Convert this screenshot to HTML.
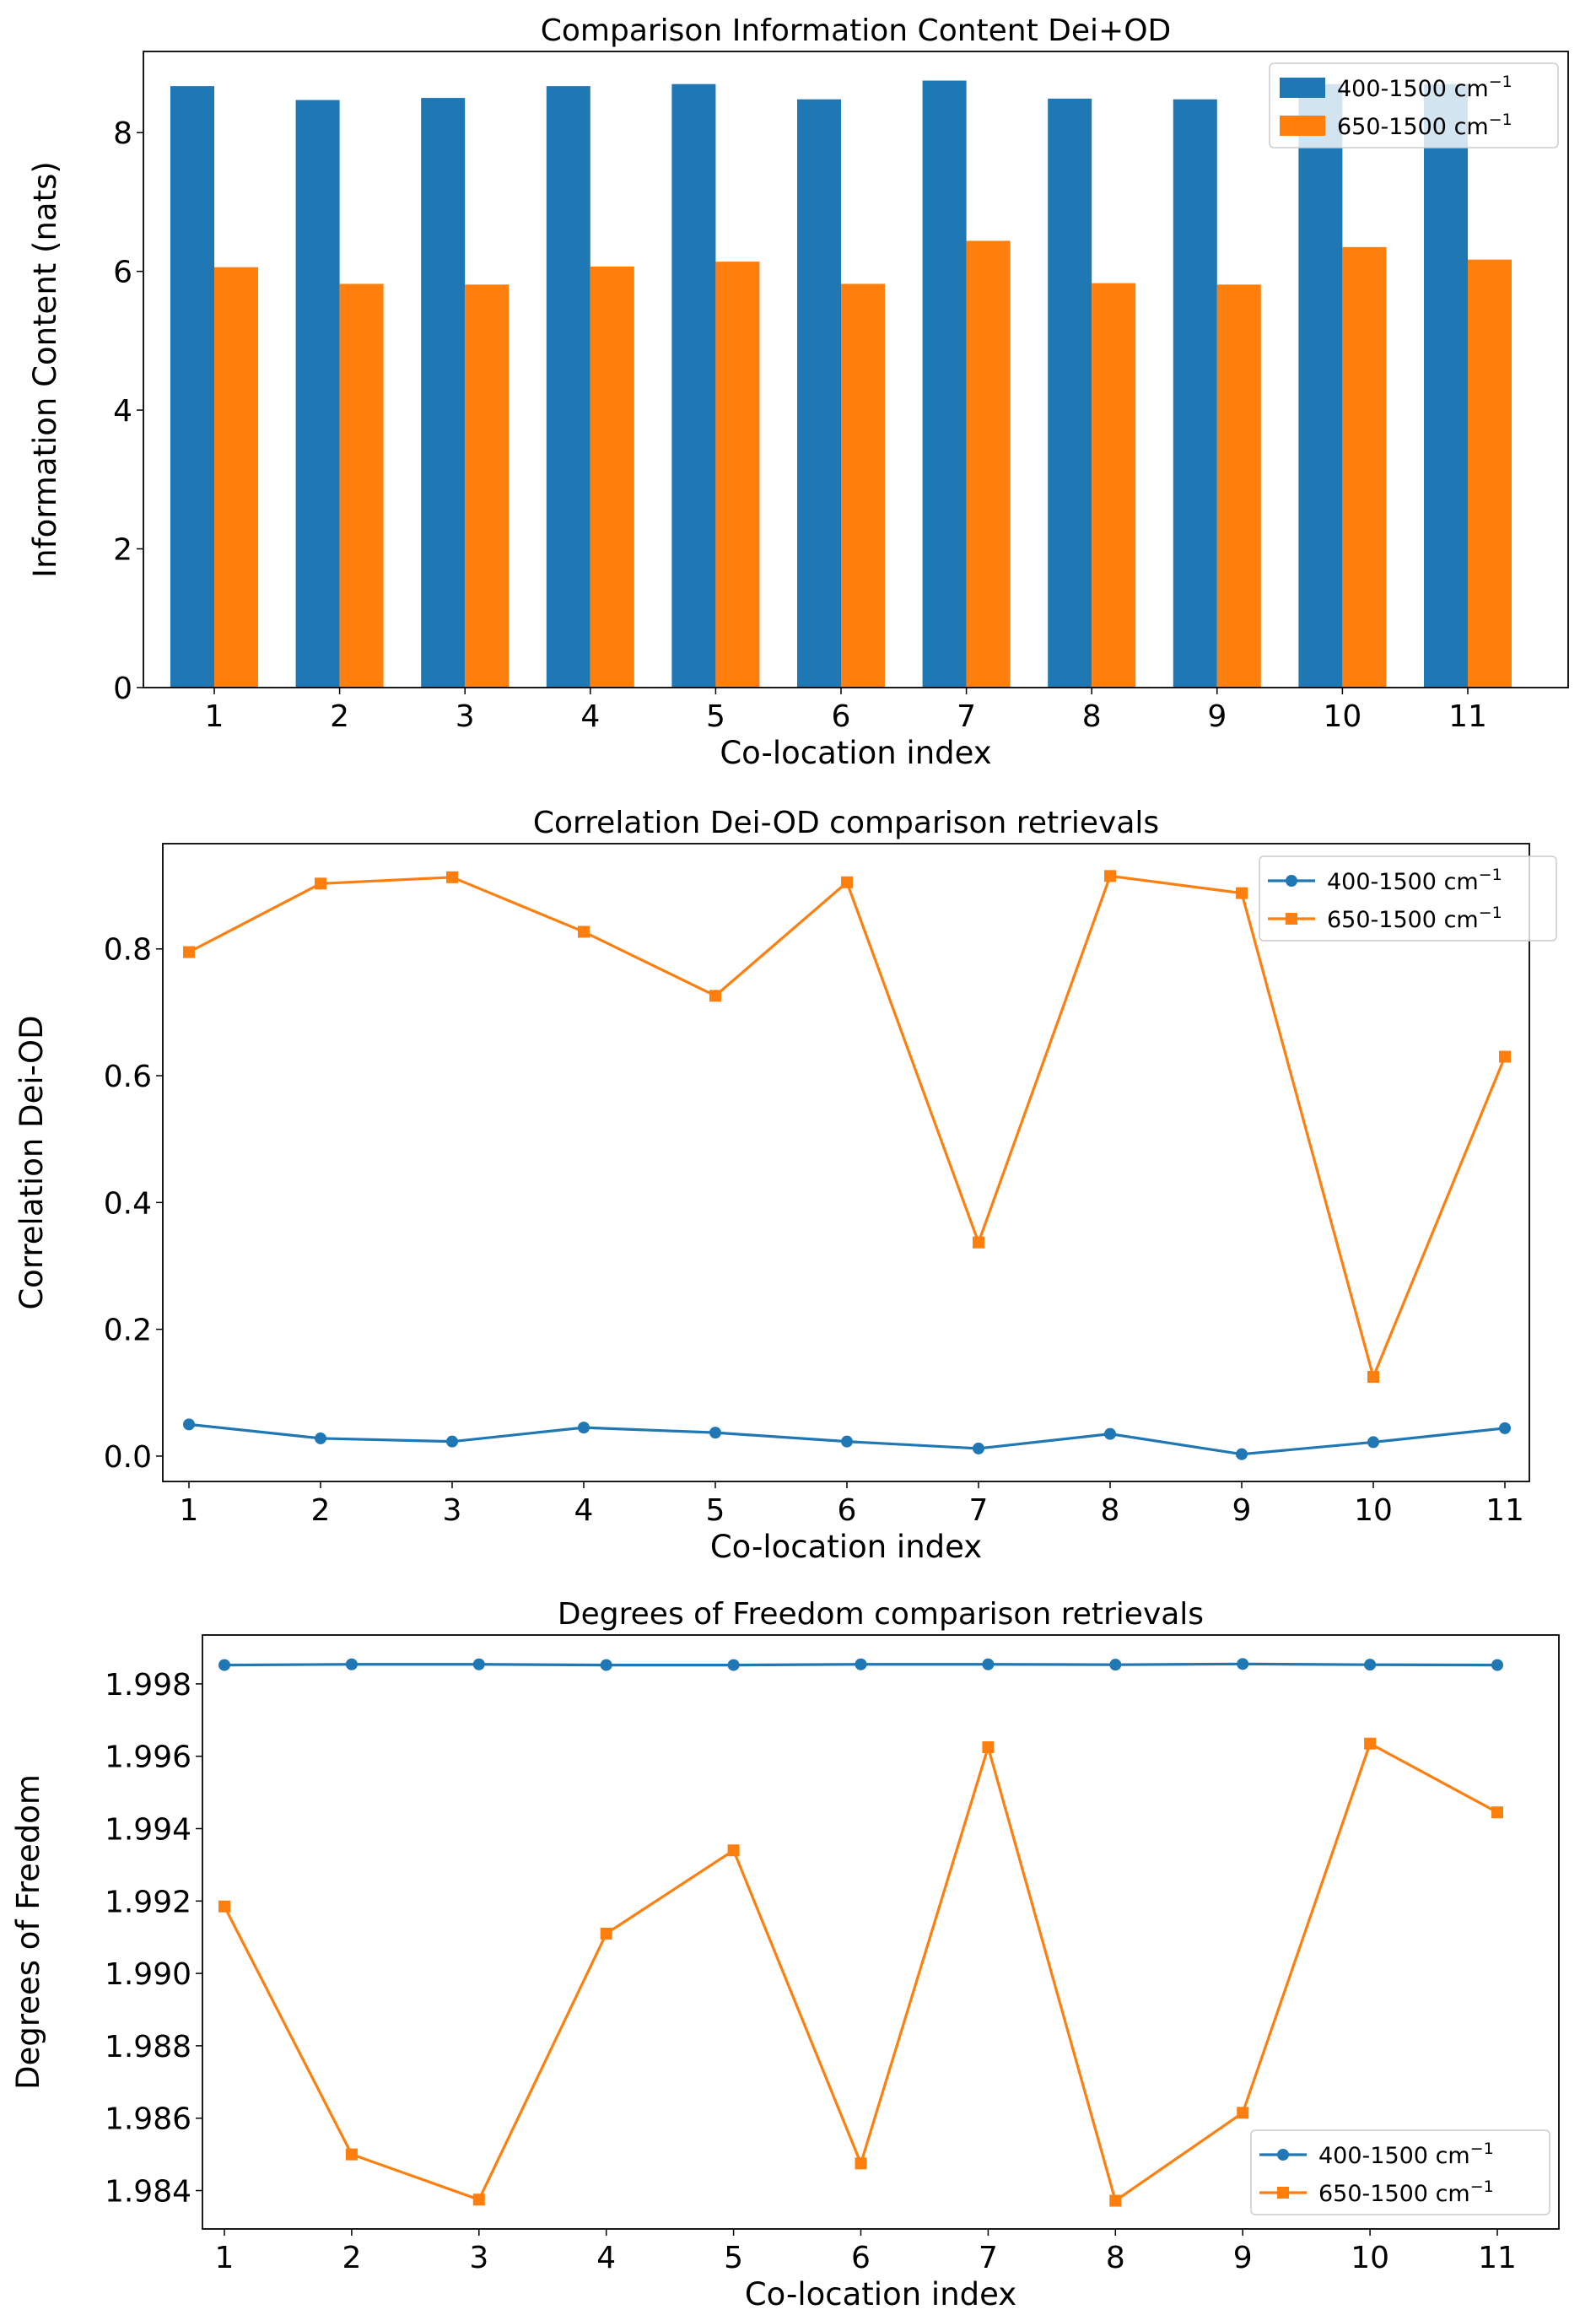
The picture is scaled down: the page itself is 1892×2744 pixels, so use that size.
<!DOCTYPE html>
<html><head><meta charset="utf-8"><style>
html,body{margin:0;padding:0;background:#fff}
svg{display:block;font-family:"DejaVu Sans","Liberation Sans",sans-serif}
</style></head><body>
<svg id="s" width="1892" height="2744" viewBox="0 0 1892 2744"></svg>
<script>
const categories=[1,2,3,4,5,6,7,8,9,10,11];
const icBlue=[8.67,8.47,8.50,8.67,8.70,8.48,8.75,8.49,8.48,8.70,8.70];
const icOrange=[6.06,5.82,5.81,6.07,6.14,5.82,6.44,5.83,5.81,6.35,6.17];
const icTicks=[0,2,4,6,8];
const corrBlue=[0.050,0.028,0.023,0.045,0.037,0.023,0.012,0.035,0.003,0.022,0.044];
const corrOrange=[0.795,0.903,0.913,0.827,0.726,0.905,0.337,0.915,0.888,0.125,0.630];
const corrTicks=[0.0,0.2,0.4,0.6,0.8];
const dofBlue=[1.99852,1.99854,1.99854,1.99852,1.99852,1.99854,1.99854,1.99853,1.99855,1.99853,1.99852];
const dofOrange=[1.99185,1.98500,1.98375,1.99110,1.99340,1.98475,1.99625,1.98372,1.98615,1.99635,1.99445];
const dofTicks=[1.984,1.986,1.988,1.990,1.992,1.994,1.996,1.998];

const S=document.getElementById('s');const NS='http://www.w3.org/2000/svg';
const BLUE='#1f77b4',ORANGE='#ff7f0e';
function el(t,a,p){const e=document.createElementNS(NS,t);for(const k in a)e.setAttribute(k,a[k]);(p||S).appendChild(e);return e;}
function txt(x,y,s,a,p){const e=el('text',Object.assign({x:x,y:y},a),p);e.textContent=s;return e;}

function axes(cfg){
  const g=el('g',{});
  
  
  const {L,R,T,B,ymin,ymax,x1,x11}=cfg;
  const X=i=>x1+(i-1)*(x11-x1)/10;
  const Y=v=>B-(v-ymin)/(ymax-ymin)*(B-T);
  return {g,X,Y,L,R,T,B};
}
function frame(a,cfg){
  const {g,X,Y,L,R,T,B}=a;
  const f=el('rect',{x:L,y:T,width:R-L,height:B-T,fill:'none',stroke:'#000','stroke-width':1.8},g);
  
  categories.forEach(c=>{
    el('line',{x1:X(c),x2:X(c),y1:B,y2:B+8,stroke:'#000','stroke-width':1.5},g);
    const t=txt(X(c),B+46,String(c),{'font-size':36,'text-anchor':'middle'},g);
    
  });
  cfg.ticks.forEach(v=>{
    el('line',{x1:L-8,x2:L,y1:Y(v),y2:Y(v),stroke:'#000','stroke-width':1.5},g);
    const t=txt(L-13,Y(v)+13,v.toFixed(cfg.dec),{'font-size':36,'text-anchor':'end'},g);
    
  });
  const tt=txt((L+R)/2,T-13,cfg.title,{'font-size':36,'text-anchor':'middle'},g);
  
  const xt=txt((L+R)/2,B+90,'Co-location index',{'font-size':37,'text-anchor':'middle'},g);
  
  const yt=txt(0,0,cfg.ylabel,{'font-size':37,'text-anchor':'middle',transform:`translate(${cfg.ylx},${(T+B)/2}) rotate(-90)`},g);
  
}
function legend(a,x,y,w,kind){
  const lg=el('g',{},a.g);
  
  el('rect',{x:x,y:y,width:w,height:100,rx:5,fill:'#fff','fill-opacity':0.8,stroke:'#ccc','stroke-width':1.5},lg);
  [[BLUE,'400-1500 cm'],[ORANGE,'650-1500 cm']].forEach((d,i)=>{
    const cy=y+29+i*45;
    if(kind==='bar'){el('rect',{x:x+12,y:cy-12,width:54,height:24,fill:d[0]},lg);}
    else{el('line',{x1:x+10,x2:x+66,y1:cy,y2:cy,stroke:d[0],'stroke-width':3.2},lg);
      if(i===0)el('circle',{cx:x+38,cy:cy,r:7,fill:d[0]},lg);else el('rect',{x:x+31,y:cy-7,width:14,height:14,fill:d[0]},lg);}
    const t=txt(x+80,cy+10,d[1],{'font-size':27},lg);
    const sp=el('tspan',{dy:-11,'font-size':19},t);sp.textContent='−1';
    
  });
}
function lineSeries(a,vals,color,marker,name){
  const g=el('g',{},a.g);
  
  el('polyline',{points:vals.map((v,i)=>a.X(categories[i])+','+a.Y(v)).join(' '),fill:'none',stroke:color,'stroke-width':3.2},g);
  vals.forEach((v,i)=>{
    const x=a.X(categories[i]),y=a.Y(v);let m;
    if(marker==='o')m=el('circle',{cx:x,cy:y,r:7,fill:color},g);
    else m=el('rect',{x:x-7,y:y-7,width:14,height:14,fill:color},g);
    
  });
}

// Chart 1
const c1={name:'information-content-chart',L:170,R:1859,T:61,B:815,ymin:0,ymax:9.17,x1:254,x11:1740,ticks:icTicks,dec:0,title:'Comparison Information Content Dei+OD',ylabel:'Information Content (nats)',ylx:66};
const a1=axes(c1);
const bw=(c1.x11-c1.x1)/10*0.35;
categories.forEach((c,i)=>{
  const b=el('rect',{x:a1.X(c)-bw,y:a1.Y(icBlue[i]),width:bw,height:a1.Y(0)-a1.Y(icBlue[i]),fill:BLUE},a1.g);
  
  const o=el('rect',{x:a1.X(c),y:a1.Y(icOrange[i]),width:bw,height:a1.Y(0)-a1.Y(icOrange[i]),fill:ORANGE},a1.g);
  
});
frame(a1,c1);legend(a1,1505,75,342,'bar');

// Chart 2
const c2={name:'correlation-chart',L:193,R:1813,T:1000,B:1756,ymin:-0.04,ymax:0.966,x1:224,x11:1784,ticks:corrTicks,dec:1,title:'Correlation Dei-OD comparison retrievals',ylabel:'Correlation Dei-OD',ylx:50};
const a2=axes(c2);
lineSeries(a2,corrBlue,BLUE,'o','series-400-1500');
lineSeries(a2,corrOrange,ORANGE,'s','series-650-1500');
frame(a2,c2);legend(a2,1493,1015,352,'line');

// Chart 3
const c3={name:'degrees-of-freedom-chart',L:240,R:1848,T:1938,B:2642,ymin:1.98294,ymax:1.99935,x1:266,x11:1775,ticks:dofTicks,dec:3,title:'Degrees of Freedom comparison retrievals',ylabel:'Degrees of Freedom',ylx:46};
const a3=axes(c3);
lineSeries(a3,dofBlue,BLUE,'o','series-400-1500');
lineSeries(a3,dofOrange,ORANGE,'s','series-650-1500');
frame(a3,c3);legend(a3,1483,2525,354,'line');
</script>
</body></html>
